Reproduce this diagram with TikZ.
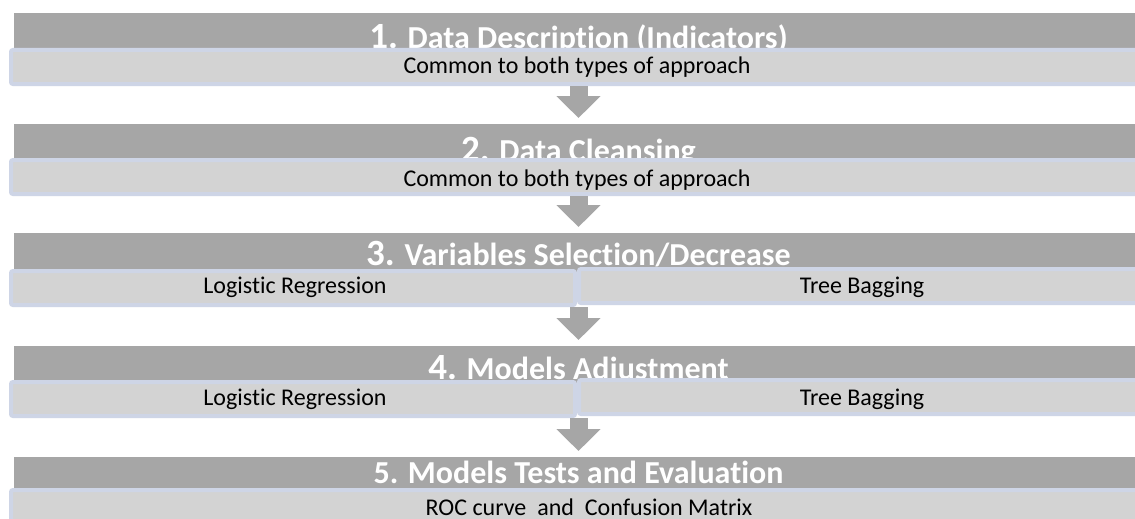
\documentclass[tikz,border=0pt]{standalone}
\usepackage{fontspec}
\setmainfont{Carlito}[Ligatures={NoCommon,NoContextual}]
\usetikzlibrary{arrows.meta}

\definecolor{stepgray}{RGB}{166,166,166}
\definecolor{notefill}{RGB}{211,211,211}
\definecolor{noteline}{RGB}{206,213,230}

\newcommand\stepno[1]{{\fontsize{37}{37}\selectfont #1}}

\tikzset{
  stepbar/.style={fill=stepgray, inner sep=0pt, outer sep=0pt,
    minimum width=1129pt, anchor=north west},
  notebar/.style={fill=notefill, draw=noteline, line width=4pt,
    rounded corners=2pt, inner sep=0pt, outer sep=0pt,
    minimum height=34pt, anchor=north west},
  steptitle/.style={text=white, inner sep=0pt, anchor=base,
    font=\bfseries\fontsize{32}{32}\selectfont},
  notetext/.style={text=black, inner sep=0pt, anchor=base,
    font=\fontsize{24}{24}\selectfont},
  flowarrow/.style={draw=stepgray, line width=18pt,
    -{Triangle[width=43pt,length=22pt]}}
}

\begin{document}
\begin{tikzpicture}[x=1pt, y=-1pt]
\clip (0,0) rectangle (1135,519);
\fill[white] (0,0) rectangle (1135,519);

% dark step headers
\node[stepbar, minimum height=41pt] (t1) at (14,13) {};
\node[stepbar, minimum height=40pt] (t2) at (14,124) {};
\node[stepbar, minimum height=42pt] (t3) at (14,233) {};
\node[stepbar, minimum height=40pt] (t4) at (14,346) {};
\node[stepbar, minimum height=37pt] (t5) at (14,457) {};

% step titles
\node[steptitle] (h1) at (578.5,48.5) {\stepno{1.} Data Description (Indicators)};
\node[steptitle] (h2) at (578.5,161) {\stepno{2.} Data Cleansing};
\node[steptitle] (h3) at (578.5,265) {\stepno{3.} Variables Selection/Decrease};
\node[steptitle] (h4) at (578.5,379) {\stepno{4.} Models Adjustment};
\node[steptitle] (h5) at (578.5,483) {5. Models Tests and Evaluation};

% light note bars
\node[notebar, minimum width=1133pt] (l1) at (11,50) {};
\node[notebar, minimum width=1133pt] (l2) at (11,160) {};
\node[notebar, minimum width=564pt] (l3a) at (11,271) {};
\node[notebar, minimum width=566pt] (l3b) at (579,269) {};
\node[notebar, minimum width=564pt] (l4a) at (11,382) {};
\node[notebar, minimum width=566pt] (l4b) at (579,380) {};
\node[notebar, minimum width=1133pt] (l5) at (11,490) {};

% note texts
\node[notetext] (n1) at (577,74) {Common to both types of approach};
\node[notetext] (n2) at (577,186) {Common to both types of approach};
\node[notetext] (n3a) at (295,293) {Logistic Regression};
\node[notetext] (n3b) at (862,293) {Tree Bagging};
\node[notetext] (n4a) at (295,405) {Logistic Regression};
\node[notetext] (n4b) at (862,405) {Tree Bagging};
\node[notetext] (n5) at (589,515) {ROC curve\ \ and\ \ Confusion Matrix};

% block arrows between the steps
\draw[flowarrow] (t2.north |- l1.south) ++(0,2) -- ([yshift=6pt]t2.north);
\draw[flowarrow] (t3.north |- l2.south) ++(0,2) -- ([yshift=6pt]t3.north);
\draw[flowarrow] (t4.north |- l3a.south) ++(0,2) -- ([yshift=6pt]t4.north);
\draw[flowarrow] (t5.north |- l4a.south) ++(0,2) -- ([yshift=6pt]t5.north);
\end{tikzpicture}
\end{document}
